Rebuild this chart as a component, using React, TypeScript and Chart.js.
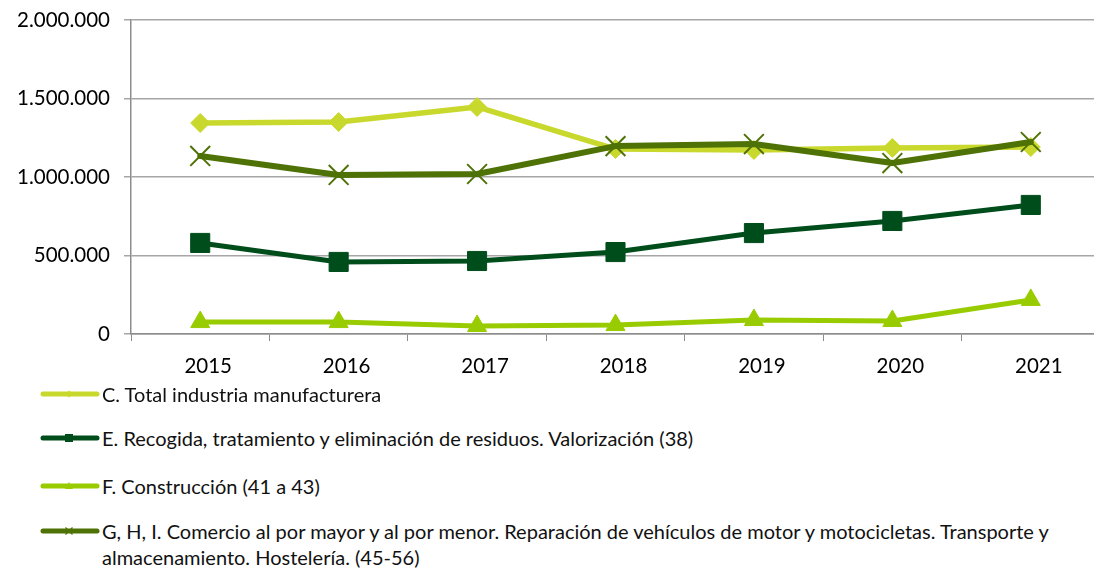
import React, { useEffect, useRef } from 'react';
import { Chart, registerables } from 'chart.js';

Chart.register(...registerables);

const years = ['2015', '2016', '2017', '2018', '2019', '2020', '2021'];
const yTicks = [0, 500000, 1000000, 1500000, 2000000];

const seriesC = [1344000, 1350000, 1446000, 1178000, 1172000, 1185000, 1191000];
const seriesE = [580000, 459000, 465000, 522000, 643000, 720000, 822000];
const seriesF = [76000, 76000, 51000, 57000, 89000, 83000, 217000];
const seriesG = [1134000, 1013000, 1019000, 1197000, 1210000, 1089000, 1223000];

const labelC = 'C. Total industria manufacturera';
const labelE = 'E. Recogida, tratamiento y eliminación de residuos. Valorización (38)';
const labelF = 'F. Construcción (41 a 43)';
const labelG = 'G, H, I. Comercio al por mayor y al por menor. Reparación de vehículos de motor y motocicletas. Transporte y almacenamiento. Hostelería. (45-56)';

const colC = '#c9d82c';
const colE = '#004d1c';
const colF = '#99cc00';
const colG = '#4e7205';

const FONT = 'Lato, "Noto Sans", sans-serif';

function fmt(v: number): string {
  return String(v).replace(/\B(?=(\d{3})+(?!\d))/g, '.');
}

function Swatch({ color, kind }: { color: string; kind: string }) {
  let marker: any = null;
  if (kind === 'diamond') marker = <polygon points="29,1.5 32.5,5 29,8.5 25.5,5" fill={color} />;
  if (kind === 'square') marker = <rect x={25} y={1} width={8} height={8} fill={color} />;
  if (kind === 'triangle') marker = <polygon points="29,1 33,8 25,8" fill={color} />;
  if (kind === 'cross')
    marker = (
      <g stroke={color} strokeWidth={1.3}>
        <line x1={25.5} y1={1.5} x2={32.5} y2={8.5} />
        <line x1={32.5} y1={1.5} x2={25.5} y2={8.5} />
      </g>
    );
  return (
    <svg width={60} height={10} style={{ position: 'absolute', left: 40, top: -5 }}>
      <line x1={3} y1={5} x2={57} y2={5} stroke={color} strokeWidth={5} strokeLinecap="round" />
      {marker}
    </svg>
  );
}

const legendItems = [
  { label: labelC, color: colC, kind: 'diamond', y: 394 },
  { label: labelE, color: colE, kind: 'square', y: 438 },
  { label: labelF, color: colF, kind: 'triangle', y: 486 },
  { label: labelG, color: colG, kind: 'cross', y: 531 },
];

export default function App() {
  const ref = useRef<HTMLCanvasElement | null>(null);

  useEffect(() => {
    if (!ref.current) return;
    const chart = new Chart(ref.current, {
      type: 'line',
      data: {
        labels: years,
        datasets: [
          {
            label: labelC,
            data: seriesC,
            borderColor: colC,
            backgroundColor: colC,
            borderWidth: 5.5,
            pointStyle: 'rectRot',
            pointRadius: 9.5,
            pointBorderWidth: 1,
            pointBackgroundColor: colC,
            pointBorderColor: colC,
            order: 4,
          },
          {
            label: labelE,
            data: seriesE,
            borderColor: colE,
            backgroundColor: colE,
            borderWidth: 5,
            pointStyle: 'rect',
            pointRadius: 13.5,
            pointBorderWidth: 1,
            pointBackgroundColor: colE,
            pointBorderColor: colE,
            order: 3,
          },
          {
            label: labelF,
            data: seriesF,
            borderColor: colF,
            backgroundColor: colF,
            borderWidth: 5,
            pointStyle: 'triangle',
            pointRadius: 11,
            pointBorderWidth: 1,
            pointBackgroundColor: colF,
            pointBorderColor: colF,
            order: 2,
          },
          {
            label: labelG,
            data: seriesG,
            borderColor: colG,
            backgroundColor: colG,
            borderWidth: 6,
            pointStyle: 'crossRot',
            pointRadius: 14,
            pointBorderWidth: 2,
            pointBackgroundColor: colG,
            pointBorderColor: colG,
            order: 1,
          },
        ],
      },
      options: {
        responsive: false,
        animation: false,
        layout: { autoPadding: false, padding: { top: 20, right: 2, left: 0, bottom: 0 } },
        plugins: { legend: { display: false }, tooltip: { enabled: false } },
        elements: { line: { tension: 0, borderCapStyle: 'round', borderJoinStyle: 'round' } },
        scales: {
          x: {
            offset: true,
            grid: {
              offset: true,
              drawOnChartArea: false,
              drawTicks: true,
              tickLength: 7,
              color: '#8c8c8c',
            },
            border: { color: '#8c8c8c', width: 1.5 },
            ticks: {
              color: '#000',
              font: { family: FONT, size: 20.5 },
              padding: 13,
              maxRotation: 0,
              labelOffset: 8,
            },
            afterFit: (s: any) => {
              s.height = 50;
              s.paddingLeft = 0;
              s.paddingRight = 0;
            },
          },
          y: {
            min: 0,
            max: 2000000,
            afterBuildTicks: (s: any) => {
              s.ticks = yTicks.map((v) => ({ value: v }));
            },
            grid: { color: '#a6a6a6', lineWidth: 1.5, tickLength: 7, drawTicks: true },
            border: { color: '#8c8c8c', width: 1.5 },
            ticks: {
              color: '#000',
              font: { family: FONT, size: 20.5 },
              padding: 14,
              callback: (v: any) => fmt(Number(v)),
            },
            afterFit: (s: any) => {
              s.width = 131;
              s.paddingTop = 0;
              s.paddingBottom = 0;
            },
          },
        },
      },
    });
    return () => chart.destroy();
  }, []);

  return (
    <div
      style={{
        position: 'fixed',
        left: 0,
        top: 0,
        width: 1094,
        height: 569,
        overflow: 'hidden',
        background: '#fff',
        fontFamily: FONT,
      }}
    >
      <canvas ref={ref} width={1102} height={384} style={{ display: 'block', position: 'absolute', left: 0, top: 0 }} />
      {legendItems.map((it) => (
        <div key={it.label} style={{ position: 'absolute', left: 0, top: it.y, width: 1094 }}>
          <Swatch color={it.color} kind={it.kind} />
          <div
            style={{
              position: 'absolute',
              left: 102,
              top: -13,
              width: 960,
              fontSize: 20,
              lineHeight: '26px',
              color: '#111',
            }}
          >
            {it.label}
          </div>
        </div>
      ))}
    </div>
  );
}
